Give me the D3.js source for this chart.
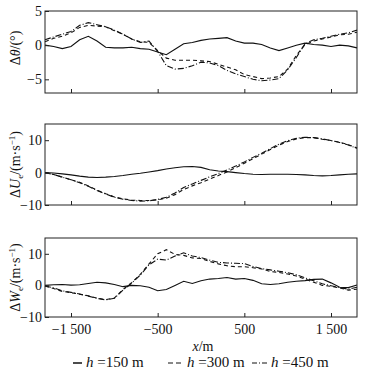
<!DOCTYPE html>
<html>
<head>
<meta charset="utf-8">
<script src="https://cdn.jsdelivr.net/npm/d3@7"></script>
<style>
  body { margin: 0; background: #fff; }
  svg { display: block; font-family: "Liberation Serif", "Times New Roman", serif; }
  .frame { fill: none; stroke: #222; stroke-width: 1; }
  .series { fill: none; stroke: #111; stroke-width: 1.1; }
  .tick line { stroke: #222; }
  .tick text { font-family: "Liberation Serif", "Times New Roman", serif; font-size: 14px; fill: #111; }
</style>
</head>
<body>
<div id="chart"></div>
<script>
// distance along the flight (m)
const xPos = [-1800, -1700, -1600, -1500, -1400, -1300, -1200, -1100, -1000, -900, -800, -700, -600, -500, -400, -300, -200, -100,
    0, 100, 200, 300, 400, 500, 600, 700, 800, 900, 1000, 1100, 1200, 1300, 1400, 1500, 1600, 1700, 1800];

const heights = ["150", "300", "450"];
const xTicks = [-1500, -500, 500, 1500];

// delta theta (deg)
const theta150 = [0, -0.2, -0.5, -0.2, 0.8, 1.3, 0.6, -0.3, -0.4, -0.4, -0.3, -0.5, -0.6, -1.0, -1.4, -0.6, 0.2, 0.4,
    0.7, 0.9, 1.0, 1.1, 0.6, 0.3, 0.3, 0.1, -0.4, -0.8, -0.4, 0.0, 0.3, 0.1, 0.0, -0.2, 0.0, -0.1, -0.4];
const theta300 = [0.5, 1.0, 1.3, 1.8, 2.6, 2.9, 2.8, 2.7, 2.1, 1.6, 0.9, 0.5, 0.4, -0.8, -1.9, -2.2, -2.2, -2.2,
    -2.3, -2.4, -2.8, -3.2, -3.6, -4.3, -4.6, -4.9, -4.8, -4.6, -3.5, -1.5, 0.1, 0.6, 0.9, 1.2, 1.5, 1.6, 1.9];
const theta450 = [0.8, 1.2, 1.6, 2.0, 2.9, 3.3, 3.0, 2.7, 2.2, 1.6, 0.9, 0.4, 0.6, -0.9, -3.0, -3.5, -3.4, -3.0,
    -2.5, -2.6, -3.0, -3.7, -4.2, -4.6, -5.0, -5.2, -5.1, -4.9, -3.6, -1.8, 0.2, 0.8, 1.0, 1.3, 1.6, 1.8, 2.2];

// delta U_e (m/s)
const u150 = [0, -0.1, -0.4, -0.7, -1.1, -1.4, -1.5, -1.4, -1.2, -0.9, -0.5, -0.2, 0.2, 0.6, 1.1, 1.5, 1.8, 1.9,
    1.6, 0.9, 0.5, 0.3, 0.0, -0.3, -0.5, -0.6, -0.5, -0.5, -0.5, -0.6, -0.7, -0.9, -1.0, -0.9, -0.7, -0.5, -0.4];
const u300 = [0, -0.6, -1.4, -2.2, -3.0, -4.1, -5.4, -6.5, -7.5, -8.1, -8.5, -8.6, -8.6, -8.4, -7.9, -6.8, -5.2, -4.1,
    -3.1, -2.0, -0.9, 0.2, 1.5, 2.9, 4.3, 5.7, 7.1, 8.5, 9.6, 10.4, 10.8, 10.8, 10.3, 9.9, 9.4, 8.6, 7.6];
const u450 = [0, -0.6, -1.4, -2.2, -3.1, -4.2, -5.5, -6.6, -7.6, -8.2, -8.6, -8.8, -8.7, -8.3, -7.6, -6.3, -4.6, -3.5,
    -2.4, -1.3, -0.3, 0.8, 2.0, 3.3, 4.7, 6.0, 7.4, 8.8, 9.9, 10.6, 10.9, 10.8, 10.4, 9.9, 9.3, 8.5, 7.5];

// delta W_e (m/s)
const w150 = [0, 0.2, 0.3, 0.1, 0.2, 0.6, 1.0, 0.8, 0.3, -0.4, 0.0, -0.1, -0.6, -1.7, -1.3, 0.0, 1.3, 0.6,
    1.5, 2.0, 2.2, 2.5, 2.0, 2.2, 1.6, 0.5, 0.3, 0.5, 1.0, 1.3, 1.5, 1.9, 2.0, 0.8, -0.6, -0.7, 0.1];
const w300 = [-0.2, -1.0, -1.9, -2.3, -2.8, -3.3, -4.0, -4.5, -4.0, -1.3, 0.9, 3.5, 6.8, 10.0, 11.3, 9.8, 9.5, 8.7,
    8.5, 7.6, 6.8, 6.2, 5.9, 5.9, 5.6, 5.2, 4.4, 4.1, 3.6, 3.0, 2.0, 1.0, 0.0, -0.3, -0.8, -1.5, -1.2];
const w450 = [-0.2, -0.8, -1.7, -2.2, -2.7, -3.4, -4.1, -4.6, -4.1, -1.5, 0.7, 3.3, 6.5, 8.3, 8.0, 9.3, 10.3, 9.3,
    8.8, 8.0, 7.3, 7.1, 7.0, 6.9, 6.0, 5.3, 4.9, 4.5, 4.0, 3.4, 2.4, 1.5, 0.5, -0.1, -0.7, -1.2, -0.6];

const dashes = [null, "4,3", "6,2,1,2"];

const width = 368;
const height = 375;
const left = 45;
const right = 357;

const svg = d3.select('#chart').append('svg').attr('width', width).attr('height', height);

const xScale = d3.scaleLinear().domain([-1800, 1800]).range([left, right]);
const fmt = d3.formatLocale({ decimal: ".", thousands: " ", grouping: [3], currency: ["", ""], minus: "\u2212" });
const xFormat = fmt.format(",");

const panels = [
    { top: 11, bottom: 93, domain: [-7, 5], ticks: [-5, 0, 5], series: [theta150, theta300, theta450], sym: "θ", sub: null, unit: "/(°)" },
    { top: 124, bottom: 205, domain: [-10, 15], ticks: [-10, 0, 10], series: [u150, u300, u450], sym: "U", sub: "e", unit: "/(m·s" },
    { top: 238, bottom: 317, domain: [-10, 15], ticks: [-10, 0, 10], series: [w150, w300, w450], sym: "W", sub: "e", unit: "/(m·s" }
];

panels.forEach((p, idx) => {
    const yScale = d3.scaleLinear().domain(p.domain).range([p.bottom, p.top]);
    const g = svg.append('g');

    const line = d3.line()
        .x((d, i) => xScale(xPos[i]))
        .y(d => yScale(d));

    p.series.forEach((s, k) => {
        g.append('path')
            .attr('class', 'series')
            .attr('d', line(s))
            .attr('stroke-dasharray', dashes[k]);
    });

    // bottom ticks (inward)
    const xAxis = d3.axisBottom(xScale)
        .tickValues(xTicks)
        .tickSizeInner(-4)
        .tickSizeOuter(0)
        .tickPadding(7)
        .tickFormat(idx === 2 ? xFormat : "");
    const xa = g.append('g').attr('transform', `translate(0, ${p.bottom})`).call(xAxis);
    xa.select('.domain').remove();

    const yAxis = d3.axisLeft(yScale)
        .tickValues(p.ticks)
        .tickSizeInner(-4)
        .tickSizeOuter(0)
        .tickPadding(3)
        .tickFormat(fmt.format("d"));
    const ya = g.append('g').attr('transform', `translate(${left}, 0)`).call(yAxis);
    ya.select('.domain').remove();

    g.append('rect')
        .attr('class', 'frame')
        .attr('x', left)
        .attr('y', p.top)
        .attr('width', right - left)
        .attr('height', p.bottom - p.top);

    // rotated axis title
    const title = svg.append('text')
        .attr('transform', `translate(20, ${(p.top + p.bottom) / 2 - (idx === 0 ? 4 : 0)}) rotate(-90)`)
        .attr('text-anchor', 'middle')
        .style('font-size', '14px')
        .attr('fill', '#111');
    title.append('tspan').text('Δ');
    title.append('tspan').style('font-style', 'italic').text(p.sym);
    if (p.sub) {
        title.append('tspan').attr('dy', 3).style('font-size', '9px').text(p.sub);
        title.append('tspan').attr('dy', -3).text(p.unit);
        title.append('tspan').attr('dy', -5).style('font-size', '9px').text('−1');
        title.append('tspan').attr('dy', 5).text(')');
    } else {
        title.append('tspan').text(p.unit);
    }
});

// x axis title
const xTitle = svg.append('text')
    .attr('x', 203)
    .attr('y', 351)
    .attr('text-anchor', 'middle')
    .style('font-size', '14px')
    .attr('fill', '#111');
xTitle.append('tspan').style('font-style', 'italic').text('x');
xTitle.append('tspan').text('/m');

// legend
const legendX = [73, 168, 252];
const legend = svg.append('g');
heights.forEach((h, k) => {
    const sampleW = k === 0 ? 9 : 15;
    legend.append('line')
        .attr('x1', legendX[k])
        .attr('x2', legendX[k] + sampleW)
        .attr('y1', 363)
        .attr('y2', 363)
        .attr('stroke', '#111')
        .attr('stroke-width', k === 0 ? 1.5 : 1)
        .attr('stroke-dasharray', k === 1 ? "5,3" : (k === 2 ? "5,2,1,2" : null));
    const t = legend.append('text')
        .attr('x', legendX[k] + sampleW + 4)
        .attr('y', 367)
        .style('font-size', '15px')
        .attr('fill', '#111');
    t.append('tspan').style('font-style', 'italic').text('h');
    t.append('tspan').text(` =${h} m`);
});
</script>
</body>
</html>
